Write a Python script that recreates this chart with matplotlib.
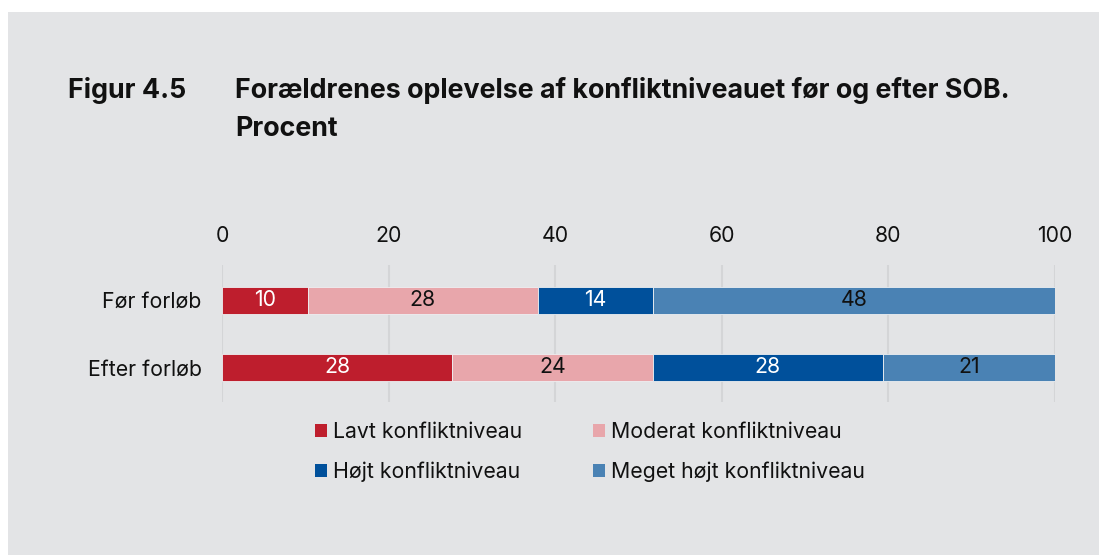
import matplotlib
matplotlib.use("Agg")
import matplotlib.pyplot as plt
from matplotlib.patches import Rectangle, Patch

categories = ["Før forløb", "Efter forløb"]
series_names = ["Lavt konfliktniveau", "Moderat konfliktniveau",
                "Højt konfliktniveau", "Meget højt konfliktniveau"]
values = {
    "Lavt konfliktniveau": [10.3, 27.6],
    "Moderat konfliktniveau": [27.6, 24.1],
    "Højt konfliktniveau": [13.8, 27.6],
    "Meget højt konfliktniveau": [48.3, 20.7],
}
labels = {
    "Lavt konfliktniveau": ["10", "28"],
    "Moderat konfliktniveau": ["28", "24"],
    "Højt konfliktniveau": ["14", "28"],
    "Meget højt konfliktniveau": ["48", "21"],
}
colors = ["#be1e2d", "#e8a6ab", "#00509b", "#4a82b4"]
text_colors = ["white", "#111111", "white", "#111111"]
xticks = [0, 20, 40, 60, 80, 100]

BG = "#e3e4e6"
FONT = "Inter"
FS = 15.3

W, H = 1099, 555
fig = plt.figure(figsize=(W / 100, H / 100), dpi=100)
fig.patch.set_facecolor("white")
fig.patches.append(Rectangle((8 / W, 0), 1 - 8 / W, 1 - 12 / H, transform=fig.transFigure,
                             facecolor=BG, edgecolor="none", zorder=-10))

# title
tkw = dict(fontfamily=FONT, fontweight="bold", fontsize=19.3, color="#111111", va="baseline")
fig.text(68 / W, 1 - 98 / H, "Figur 4.5", **tkw)
fig.text(235 / W, 1 - 98 / H, "Forældrenes oplevelse af konfliktniveauet før og efter SOB.", **tkw)
fig.text(235 / W, 1 - 136 / H, "Procent", **tkw)

ax_left, ax_right = 222, 1055
ax_top, ax_bottom = 265, 402
ax = fig.add_axes([ax_left / W, 1 - ax_bottom / H, (ax_right - ax_left) / W, (ax_bottom - ax_top) / H])
ax.set_facecolor("none")
ypos = [0, 1]
left = [0.0, 0.0]
for i, name in enumerate(series_names):
    vals = values[name]
    ax.barh(ypos, vals, left=left, height=0.40, color=colors[i],
            edgecolor="#eef0f2", linewidth=0.6, zorder=3)
    for j, v in enumerate(vals):
        ax.text(left[j] + v / 2, ypos[j], labels[name][j], ha="center", va="center",
                color=text_colors[i], fontsize=FS, fontfamily=FONT, zorder=4)
    left = [a + b for a, b in zip(left, vals)]

ax.set_xlim(0, 100)
ax.set_ylim(1.513, -0.52)
ax.set_yticks(ypos)
ax.set_yticklabels(categories, fontsize=FS, fontfamily=FONT, color="#111111")
ax.set_xticks(xticks)
ax.set_xticklabels([str(t) for t in xticks], fontsize=FS, fontfamily=FONT, color="#111111")
ax.xaxis.tick_top()
ax.tick_params(axis="both", length=0)
ax.tick_params(axis="x", pad=14)
ax.tick_params(axis="y", pad=14.5)
for s in ax.spines.values():
    s.set_visible(False)
ax.grid(axis="x", color="#d4d5d7", linewidth=1.5, zorder=0)
ax.set_axisbelow(True)

# legend in row order (matplotlib fills columns first)
order = [0, 2, 1, 3]
handles = [Patch(facecolor=colors[k], edgecolor="none") for k in order]
names = [series_names[k] for k in order]
leg = fig.legend(handles, names, ncol=2, loc="upper left",
                 bbox_to_anchor=(315 / W, 1 - 422 / H), frameon=False,
                 borderpad=0, borderaxespad=0,
                 prop={"family": FONT, "size": FS}, handlelength=0.56, handleheight=0.56,
                 handletextpad=0.28, columnspacing=3.35, labelspacing=0.9,
                 labelcolor="#111111")

fig.savefig("out.png", dpi=100, facecolor=fig.get_facecolor())
